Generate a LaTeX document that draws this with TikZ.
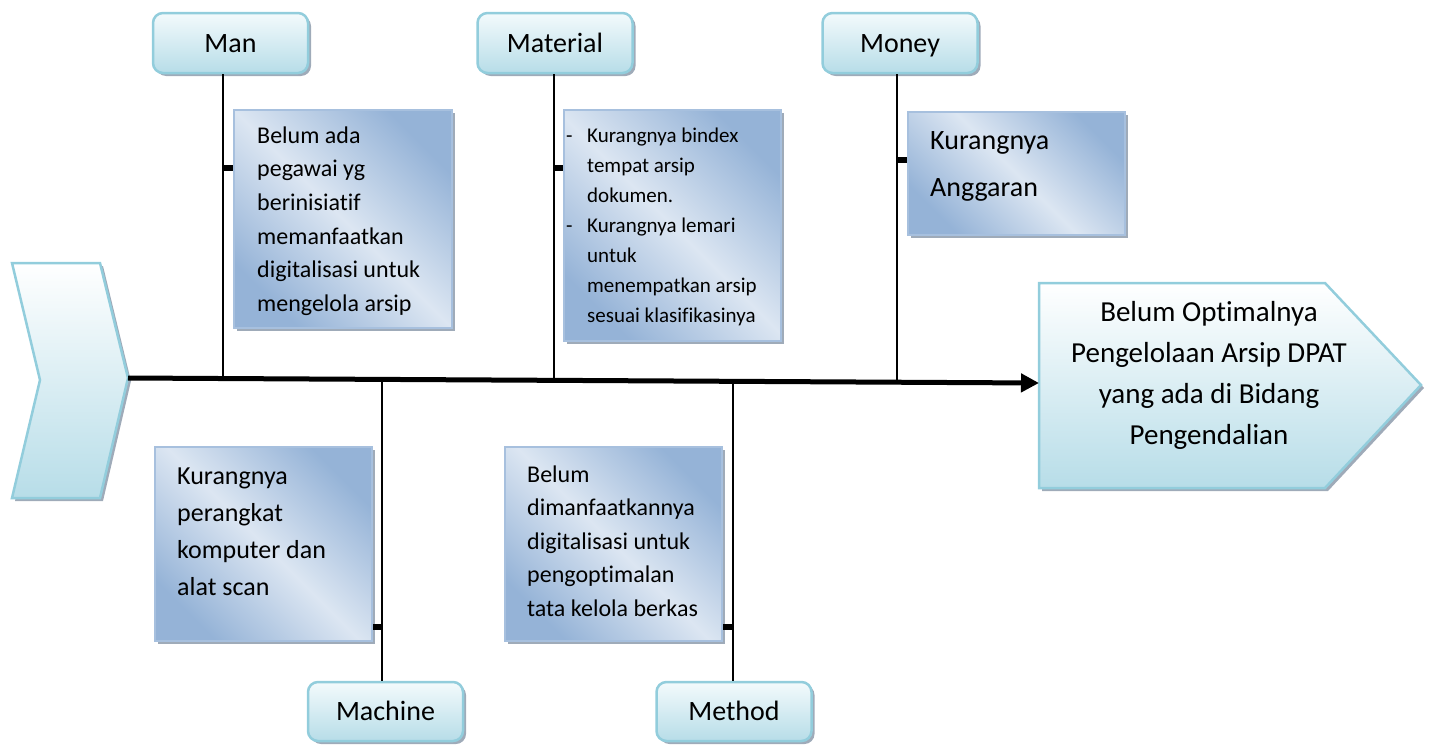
\documentclass[tikz,border=0pt]{standalone}
\usepackage{fontspec}
\setmainfont{Carlito}[Ligatures=CommonOff]
\usetikzlibrary{arrows.meta,shadows}
\definecolor{catborder}{HTML}{92CDDC}
\definecolor{cattop}{HTML}{F3FAFC}
\definecolor{catbot}{HTML}{B7DDE8}
\definecolor{descdark}{HTML}{95B3D7}
\definecolor{desclight}{HTML}{DCE6F2}
\definecolor{descborder}{HTML}{A7C0DE}
\definecolor{shadowgray}{HTML}{8E9CAD}
\tikzset{
  myshadow/.style={drop shadow={shadow xshift=3pt,shadow yshift=-3pt,fill=shadowgray,opacity=0.85}},
  catbox/.style={draw=catborder, line width=2.5pt, rounded corners=10pt,
    top color=cattop, bottom color=catbot, minimum width=155pt, minimum height=60pt,
    inner sep=0pt, text height=18pt, text depth=0pt, font=\fontsize{28}{34}\selectfont, myshadow},
  descbox/.style={draw=descborder, line width=1.5pt, top color=descdark,
    bottom color=descdark, middle color=desclight, shading angle=-45,
    inner sep=0pt, myshadow},
  bigshape/.style={draw=catborder, line width=2.5pt, top color=white, bottom color=catbot, myshadow},
  bone/.style={line width=2pt, black},
  ribtick/.style={line width=6pt, black},
  desctext/.style={anchor=west, align=left, inner sep=0pt},
}
\begin{document}
\begin{tikzpicture}[x=1pt,y=-1pt]
\useasboundingbox (0,0) rectangle (1429,744);

% tail chevron and head pentagon
\draw[bigshape] (12,263) -- (100,263) -- (128,378) -- (100,498) -- (12,498) -- (40,380) -- cycle;
\draw[bigshape] (1039,283) -- (1325,283) -- (1421,385) -- (1325,488) -- (1039,488) -- cycle;
\coordinate (tail) at (128,378);
\coordinate (head) at (1039,383);
\node[align=center, inner sep=0pt, font=\fontsize{29}{41}\selectfont] (effect) at (1209,375)
  {Belum Optimalnya\\Pengelolaan Arsip DPAT\\yang ada di Bidang\\Pengendalian};

% spine points
\coordinate (sMan) at (223,377.6);
\coordinate (sMat) at (554,379.8);
\coordinate (sMon) at (897,382.1);
\coordinate (sMac) at (382,378.7);
\coordinate (sMet) at (733,381);

% category boxes
\node[catbox] (man) at (230.5,43) {Man};
\node[catbox] (material) at (555,43) {Material};
\node[catbox] (money) at (900,43) {Money};
\node[catbox, minimum height=59pt] (machine) at (385.5,711.5) {Machine};
\node[catbox, minimum height=59pt] (method) at (734,711.5) {Method};

% bones
\draw[bone] (sMan |- man.south) -- (sMan);
\draw[bone] (sMat |- material.south) -- (sMat);
\draw[bone] (sMon |- money.south) -- (sMon);
\draw[bone] (sMac |- machine.north) -- (sMac);
\draw[bone] (sMet |- method.north) -- (sMet);

% spine
\draw[line width=5pt, -{Triangle[length=18pt,width=18pt]}] (tail) -- (head);

% description boxes
\node[descbox, minimum width=218pt, minimum height=218pt] (manD) at (343,219) {};
\node[descbox, minimum width=217pt, minimum height=231pt] (matD) at (672.5,225.5) {};
\node[descbox, minimum width=217pt, minimum height=123pt] (monD) at (1016.5,173.5) {};
\node[descbox, minimum width=217pt, minimum height=194pt] (macD) at (263.5,544) {};
\node[descbox, minimum width=217pt, minimum height=194pt] (metD) at (613.5,544) {};

% ticks
\draw[ribtick] (sMan |- 0,168) -- (manD.west |- 0,168);
\draw[ribtick] (sMat |- 0,168) -- (matD.west |- 0,168);
\draw[ribtick] (sMon |- 0,160) -- (monD.west |- 0,160);
\draw[ribtick] (sMac |- 0,627) -- (macD.east |- 0,627);
\draw[ribtick] (sMet |- 0,627) -- (metD.east |- 0,627);

% description texts
\node[desctext, font=\fontsize{24}{33.6}\selectfont] (manT) at (257,221)
  {Belum ada\\pegawai yg\\berinisiatif\\memanfaatkan\\digitalisasi untuk\\mengelola arsip};
\node[desctext, font=\fontsize{21}{30}\selectfont] (matT) at (566,227)
  {\makebox[21pt][l]{-}Kurangnya bindex\\\hspace*{21pt}tempat arsip\\\hspace*{21pt}dokumen.\\\makebox[21pt][l]{-}Kurangnya lemari\\\hspace*{21pt}untuk\\\hspace*{21pt}menempatkan arsip\\\hspace*{21pt}sesuai klasifikasinya};
\node[desctext, font=\fontsize{28}{47}\selectfont] (monT) at (930,166)
  {Kurangnya\\Anggaran};
\node[desctext, font=\fontsize{26}{37}\selectfont] (macT) at (177,532)
  {Kurangnya\\perangkat\\komputer dan\\alat scan};
\node[desctext, font=\fontsize{24}{33.5}\selectfont] (metT) at (527,541)
  {Belum\\dimanfaatkannya\\digitalisasi untuk\\pengoptimalan\\tata kelola berkas};
\end{tikzpicture}
\end{document}
